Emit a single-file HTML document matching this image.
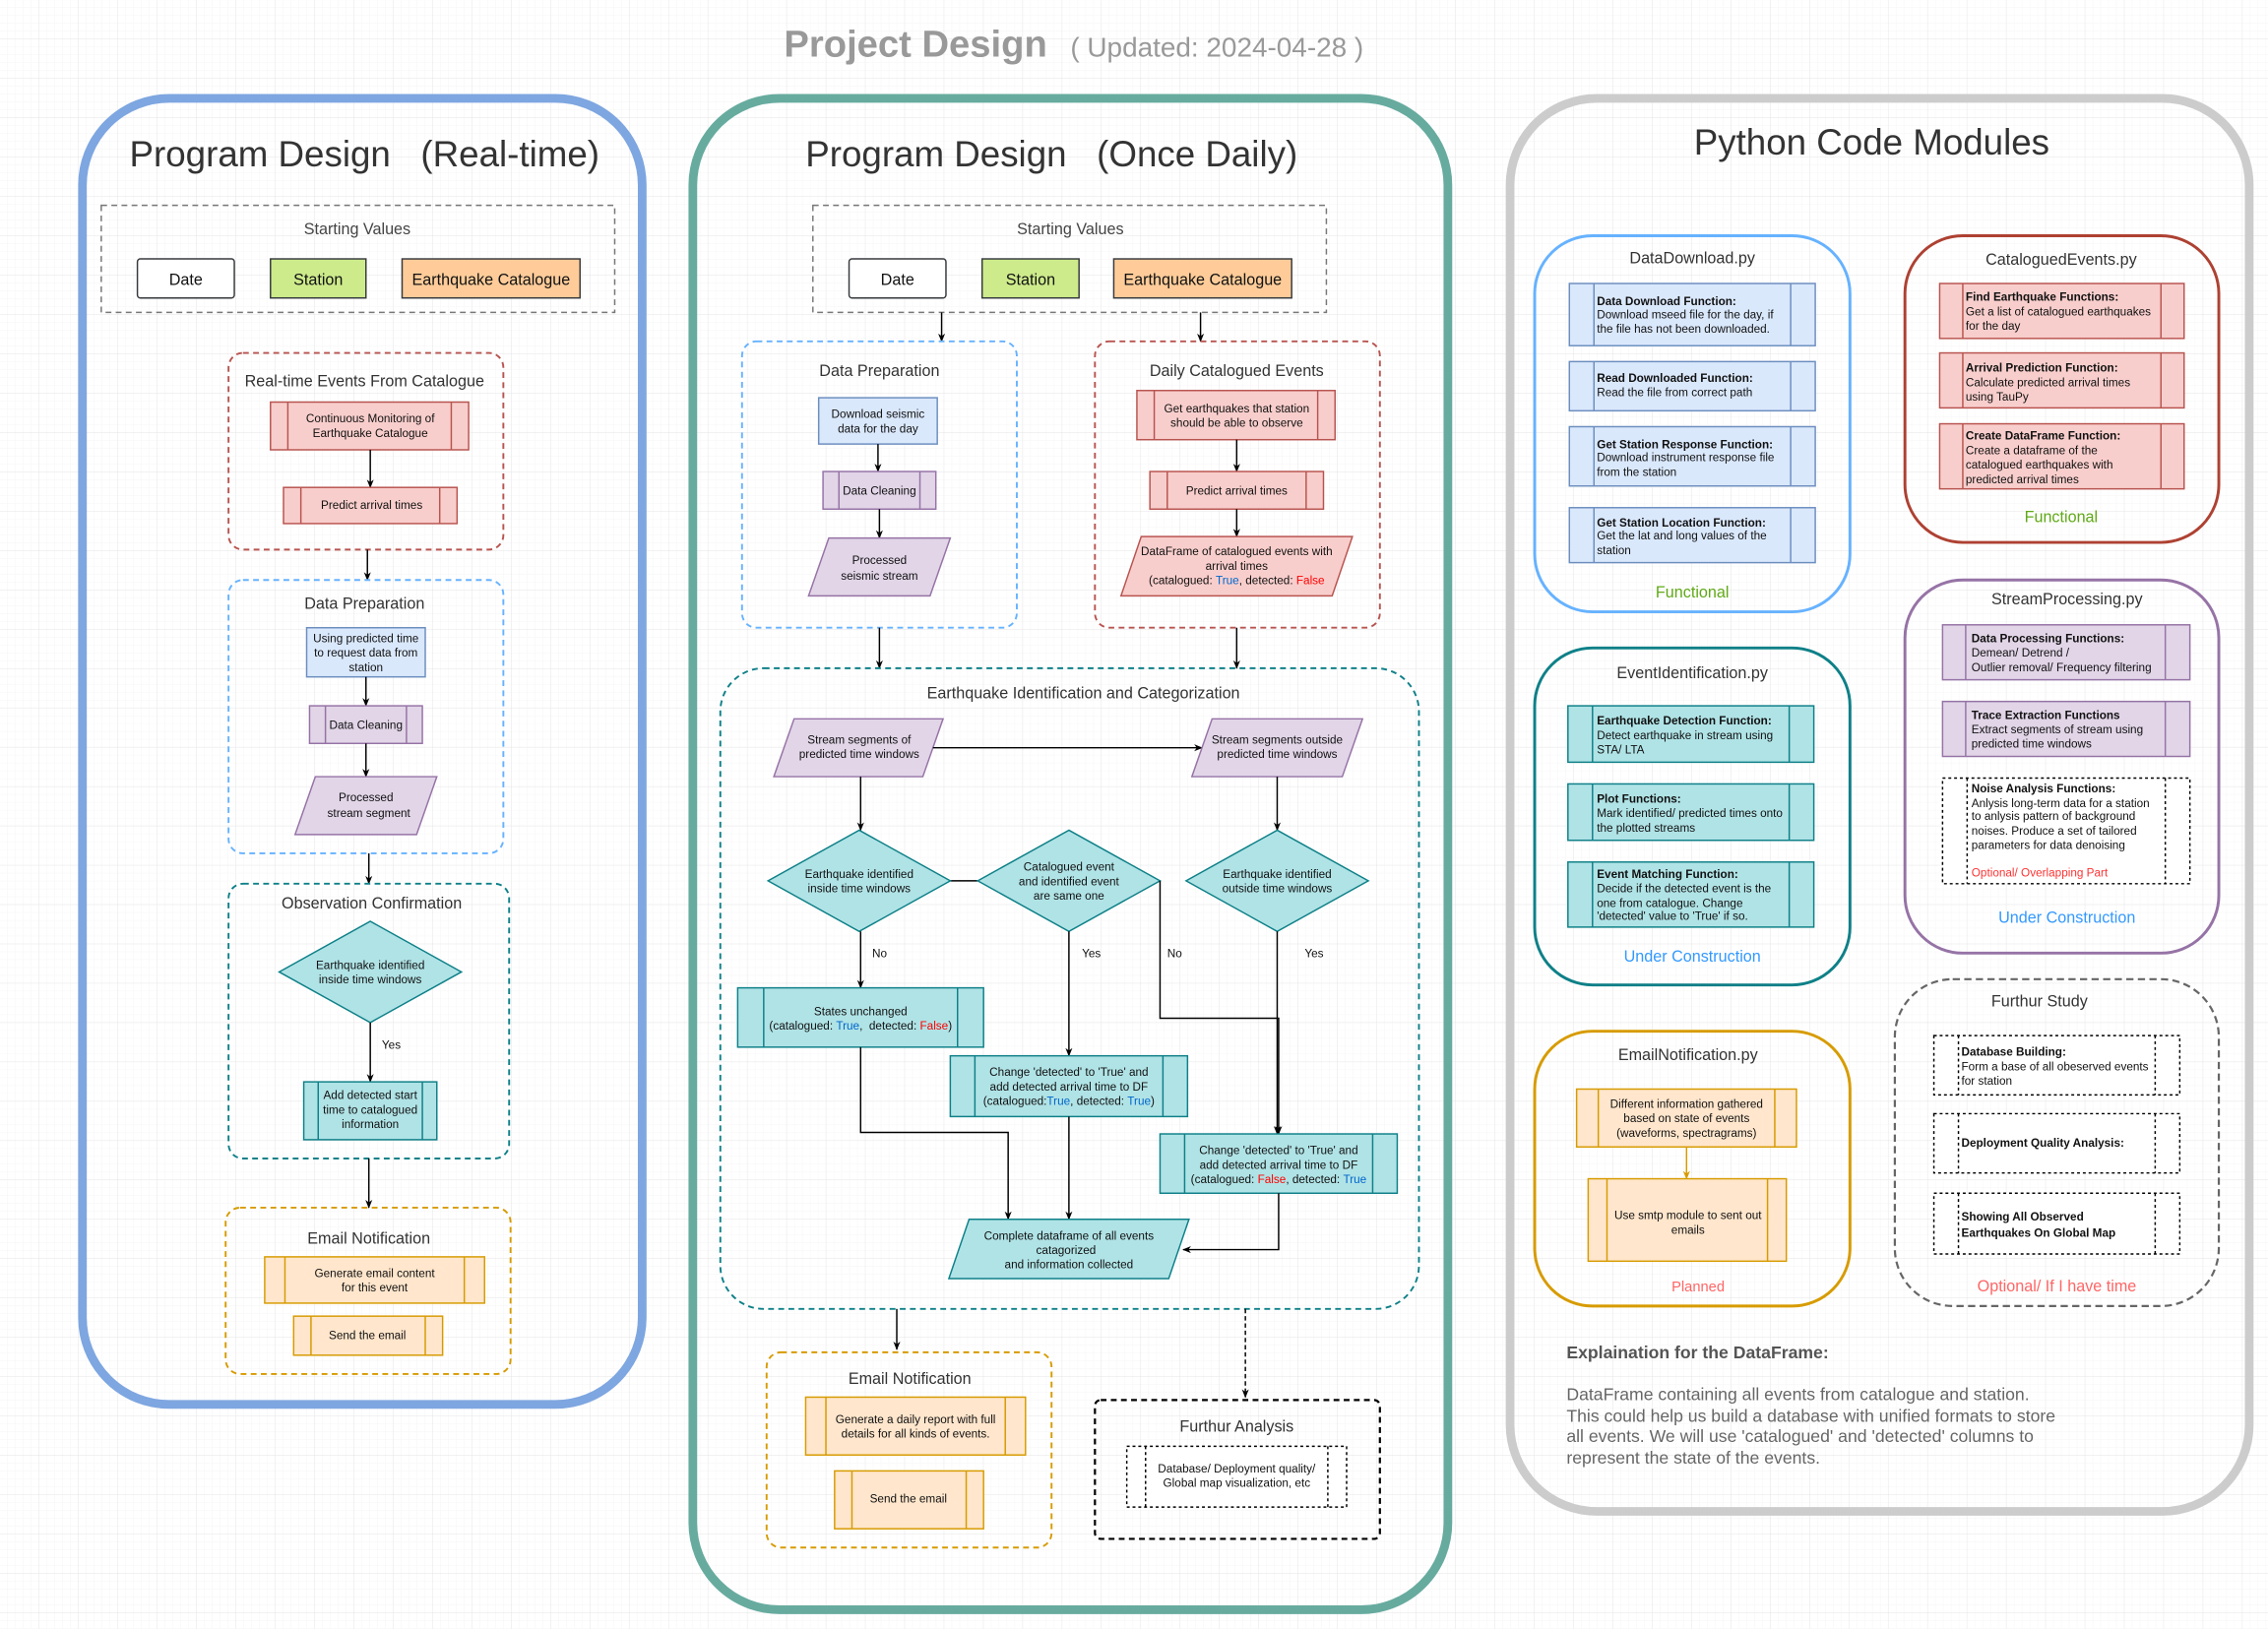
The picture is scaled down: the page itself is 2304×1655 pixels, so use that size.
<!DOCTYPE html>
<html><head><meta charset="utf-8"><style>
html,body{margin:0;padding:0;background:#fff;}
svg{display:block;}
text{font-family:"Liberation Sans",Arial,sans-serif;}
</style></head><body>
<svg width="2304" height="1655" viewBox="0 0 1568 1126.3" xmlns="http://www.w3.org/2000/svg">
<defs>
<pattern id="gmin" width="5.44" height="5.44" patternUnits="userSpaceOnUse"><path d="M5.44 0V5.44H0" fill="none" stroke="#f3f3f3" stroke-width="0.5"/></pattern>
<pattern id="gmaj" width="27.2" height="27.2" patternUnits="userSpaceOnUse"><rect width="27.2" height="27.2" fill="url(#gmin)"/><path d="M27.2 0V27.2H0" fill="none" stroke="#e4e4e4" stroke-width="0.6"/></pattern>
<marker id="ar" viewBox="0 0 10 10" refX="9" refY="5" markerWidth="6" markerHeight="6" orient="auto"><path d="M0 1L10 5L0 9L3 5Z" fill="#000"/></marker>
<marker id="aro" viewBox="0 0 10 10" refX="9" refY="5" markerWidth="6" markerHeight="6" orient="auto"><path d="M0 1L10 5L0 9L3 5Z" fill="#d79b00"/></marker>
</defs>
<rect width="1568" height="1127" fill="url(#gmaj)"/>

<!-- Title -->
<text x="542" y="39" font-size="26" font-weight="bold" fill="#999">Project Design</text>
<text x="740" y="39" font-size="19" fill="#999">( Updated: 2024-04-28 )</text>

<g font-size="8" fill="#111" text-anchor="middle">
<!-- ============ LEFT ============ -->
<rect x="57" y="68" width="387" height="903" rx="60" fill="none" stroke="#7ea6e0" stroke-width="6"/>
<text x="252" y="115" font-size="25" fill="#333" xml:space="preserve">Program Design   (Real-time)</text>
<rect x="70" y="142" width="355" height="74" fill="none" stroke="#777" stroke-dasharray="4 3"/>
<text x="247" y="162" font-size="11" fill="#444">Starting Values</text>
<rect x="95" y="179" width="67" height="27" rx="2" fill="#fff" stroke="#36393d"/><text x="128.5" y="197" font-size="11">Date</text>
<rect x="187" y="179" width="66" height="27" fill="#cdeb8b" stroke="#36393d"/><text x="220" y="197" font-size="11">Station</text>
<rect x="278" y="179" width="123" height="27" fill="#ffcc99" stroke="#36393d"/><text x="339.5" y="197" font-size="11">Earthquake Catalogue</text>

<rect x="158" y="244" width="190" height="136" rx="10" fill="none" stroke="#b85450" stroke-width="1.3" stroke-dasharray="4 3"/>
<text x="252" y="267" font-size="11" fill="#333">Real-time Events From Catalogue</text>
<rect x="187" y="278" width="137" height="33" fill="#f8cecc" stroke="#b85450"/><path d="M199 278V311M312 278V311" stroke="#b85450"/>
<text x="256" y="292">Continuous Monitoring of</text><text x="256" y="302">Earthquake Catalogue</text>
<line x1="256" y1="311" x2="256" y2="337" stroke="#000" marker-end="url(#ar)"/>
<rect x="196" y="337" width="120" height="25" fill="#f8cecc" stroke="#b85450"/><path d="M208 337V362M304 337V362" stroke="#b85450"/>
<text x="257" y="352">Predict arrival times</text>
<line x1="254" y1="380" x2="254" y2="401" stroke="#000" marker-end="url(#ar)"/>

<rect x="158" y="401" width="190" height="189" rx="10" fill="none" stroke="#66b2ff" stroke-width="1.3" stroke-dasharray="4 3"/>
<text x="252" y="421" font-size="11" fill="#333">Data Preparation</text>
<rect x="212" y="434" width="82" height="34" fill="#dae8fc" stroke="#6c8ebf"/>
<text x="253" y="444">Using predicted time</text><text x="253" y="454">to request data from</text><text x="253" y="464">station</text>
<line x1="253" y1="468" x2="253" y2="488" stroke="#000" marker-end="url(#ar)"/>
<rect x="214" y="488" width="78" height="26" fill="#e1d5e7" stroke="#9673a6"/><path d="M225 488V514M281 488V514" stroke="#9673a6"/>
<text x="253" y="504">Data Cleaning</text>
<line x1="253" y1="514" x2="253" y2="537" stroke="#000" marker-end="url(#ar)"/>
<path d="M218 537H302L288 577H204Z" fill="#e1d5e7" stroke="#9673a6"/>
<text x="253" y="554">Processed</text><text x="255" y="565">stream segment</text>
<line x1="255" y1="590" x2="255" y2="611" stroke="#000" marker-end="url(#ar)"/>

<rect x="158" y="611" width="194" height="190" rx="10" fill="none" stroke="#0e8088" stroke-width="1.3" stroke-dasharray="4 3"/>
<text x="257" y="628" font-size="11" fill="#333">Observation Confirmation</text>
<path d="M256 637L319 672L256 707L193 672Z" fill="#b0e3e6" stroke="#0e8088"/>
<text x="256" y="670">Earthquake identified</text><text x="256" y="680">inside time windows</text>
<line x1="256" y1="707" x2="256" y2="748" stroke="#000" marker-end="url(#ar)"/>
<text x="264" y="725" text-anchor="start">Yes</text>
<rect x="210" y="748" width="92" height="40" fill="#b0e3e6" stroke="#0e8088"/><path d="M220 748V788M292 748V788" stroke="#0e8088"/>
<text x="256" y="760">Add detected start</text><text x="256" y="770">time to catalogued</text><text x="256" y="780">information</text>
<line x1="255" y1="801" x2="255" y2="835" stroke="#000" marker-end="url(#ar)"/>

<rect x="156" y="835" width="197" height="115" rx="10" fill="none" stroke="#d79b00" stroke-width="1.3" stroke-dasharray="4 3"/>
<text x="255" y="860" font-size="11" fill="#333">Email Notification</text>
<rect x="183" y="869" width="152" height="32" fill="#ffe6cc" stroke="#d79b00"/><path d="M197 869V901M321 869V901" stroke="#d79b00"/>
<text x="259" y="883">Generate email content</text><text x="259" y="893">for this event</text>
<rect x="203" y="910" width="103" height="27" fill="#ffe6cc" stroke="#d79b00"/><path d="M215 910V937M294 910V937" stroke="#d79b00"/>
<text x="254" y="926">Send the email</text>

<!-- ============ MIDDLE ============ -->
<rect x="479" y="68" width="522" height="1045" rx="60" fill="none" stroke="#67ab9f" stroke-width="6"/>
<text x="727" y="115" font-size="25" fill="#333" xml:space="preserve">Program Design   (Once Daily)</text>
<rect x="562" y="142" width="355" height="74" fill="none" stroke="#777" stroke-dasharray="4 3"/>
<text x="740" y="162" font-size="11" fill="#444">Starting Values</text>
<rect x="587" y="179" width="67" height="27" rx="2" fill="#fff" stroke="#36393d"/><text x="620.5" y="197" font-size="11">Date</text>
<rect x="679" y="179" width="67" height="27" fill="#cdeb8b" stroke="#36393d"/><text x="712.5" y="197" font-size="11">Station</text>
<rect x="770" y="179" width="123" height="27" fill="#ffcc99" stroke="#36393d"/><text x="831.5" y="197" font-size="11">Earthquake Catalogue</text>
<line x1="651" y1="216" x2="651" y2="236" stroke="#000" marker-end="url(#ar)"/>
<line x1="830" y1="216" x2="830" y2="236" stroke="#000" marker-end="url(#ar)"/>

<rect x="513" y="236" width="190" height="198" rx="10" fill="none" stroke="#66b2ff" stroke-width="1.3" stroke-dasharray="4 3"/>
<text x="608" y="260" font-size="11" fill="#333">Data Preparation</text>
<rect x="566" y="275" width="82" height="32" fill="#dae8fc" stroke="#6c8ebf"/>
<text x="607" y="289">Download seismic</text><text x="607" y="299">data for the day</text>
<line x1="607" y1="307" x2="607" y2="326" stroke="#000" marker-end="url(#ar)"/>
<rect x="569" y="326" width="78" height="26" fill="#e1d5e7" stroke="#9673a6"/><path d="M580 326V352M636 326V352" stroke="#9673a6"/>
<text x="608" y="342">Data Cleaning</text>
<line x1="608" y1="352" x2="608" y2="372" stroke="#000" marker-end="url(#ar)"/>
<path d="M573 372H657L643 412H559Z" fill="#e1d5e7" stroke="#9673a6"/>
<text x="608" y="390">Processed</text><text x="608" y="401">seismic stream</text>

<rect x="757" y="236" width="197" height="198" rx="10" fill="none" stroke="#b85450" stroke-width="1.3" stroke-dasharray="4 3"/>
<text x="855" y="260" font-size="11" fill="#333">Daily Catalogued Events</text>
<rect x="786" y="270" width="137" height="34" fill="#f8cecc" stroke="#b85450"/><path d="M798 270V304M911 270V304" stroke="#b85450"/>
<text x="855" y="285">Get earthquakes that station</text><text x="855" y="295">should be able to observe</text>
<line x1="855" y1="304" x2="855" y2="326" stroke="#000" marker-end="url(#ar)"/>
<rect x="795" y="326" width="120" height="26" fill="#f8cecc" stroke="#b85450"/><path d="M807 326V352M903 326V352" stroke="#b85450"/>
<text x="855" y="342">Predict arrival times</text>
<line x1="855" y1="352" x2="855" y2="371" stroke="#000" marker-end="url(#ar)"/>
<path d="M789 371H935L921 412H775Z" fill="#f8cecc" stroke="#b85450"/>
<text x="855" y="384">DataFrame of catalogued events with</text><text x="855" y="394">arrival times</text>
<text x="855" y="404">(catalogued: <tspan fill="#0066cc">True</tspan>, detected: <tspan fill="#ff0000">False</tspan></text>
<line x1="608" y1="434" x2="608" y2="462" stroke="#000" marker-end="url(#ar)"/>
<line x1="855" y1="434" x2="855" y2="462" stroke="#000" marker-end="url(#ar)"/>

<rect x="498" y="462" width="483" height="443" rx="30" fill="none" stroke="#0e8088" stroke-width="1.3" stroke-dasharray="4 3"/>
<text x="749" y="483" font-size="11" fill="#333">Earthquake Identification and Categorization</text>
<path d="M549 497H652L638 537H535Z" fill="#e1d5e7" stroke="#9673a6"/>
<text x="594" y="514">Stream segments of</text><text x="594" y="524">predicted time windows</text>
<line x1="645" y1="517" x2="831" y2="517" stroke="#000" marker-end="url(#ar)"/>
<path d="M838 497H942L928 537H824Z" fill="#e1d5e7" stroke="#9673a6"/>
<text x="883" y="514">Stream segments outside</text><text x="883" y="524">predicted time windows</text>
<line x1="595" y1="537" x2="595" y2="574" stroke="#000" marker-end="url(#ar)"/>
<line x1="883" y1="537" x2="883" y2="574" stroke="#000" marker-end="url(#ar)"/>
<line x1="657" y1="609" x2="676" y2="609" stroke="#000"/>
<path d="M594 574L657 609L594 644L531 609Z" fill="#b0e3e6" stroke="#0e8088"/>
<text x="594" y="607">Earthquake identified</text><text x="594" y="617">inside time windows</text>
<path d="M739 574L802 609L739 644L676 609Z" fill="#b0e3e6" stroke="#0e8088"/>
<text x="739" y="602">Catalogued event</text><text x="739" y="612">and identified event</text><text x="739" y="622">are same one</text>
<path d="M883 574L946 609L883 644L820 609Z" fill="#b0e3e6" stroke="#0e8088"/>
<text x="883" y="607">Earthquake identified</text><text x="883" y="617">outside time windows</text>

<line x1="595" y1="644" x2="595" y2="683" stroke="#000" marker-end="url(#ar)"/>
<text x="603" y="662" text-anchor="start">No</text>
<line x1="739" y1="644" x2="739" y2="730" stroke="#000" marker-end="url(#ar)"/>
<text x="748" y="662" text-anchor="start">Yes</text>
<polyline points="802,609 802,704 884,704 884,784" fill="none" stroke="#000" marker-end="url(#ar)"/>
<text x="807" y="662" text-anchor="start">No</text>
<line x1="883" y1="644" x2="883" y2="784" stroke="#000" marker-end="url(#ar)"/>
<text x="902" y="662" text-anchor="start">Yes</text>

<rect x="510" y="683" width="170" height="41" fill="#b0e3e6" stroke="#0e8088"/><path d="M528 683V724M662 683V724" stroke="#0e8088"/>
<text x="595" y="702">States unchanged</text>
<text x="595" y="712" xml:space="preserve">(catalogued: <tspan fill="#0066cc">True</tspan>,  detected: <tspan fill="#ff0000">False</tspan>)</text>
<rect x="657" y="730" width="164" height="42" fill="#b0e3e6" stroke="#0e8088"/><path d="M674 730V772M804 730V772" stroke="#0e8088"/>
<text x="739" y="744">Change 'detected' to 'True' and</text><text x="739" y="754">add detected arrival time to DF</text>
<text x="739" y="764">(catalogued:<tspan fill="#0066cc">True</tspan>, detected: <tspan fill="#0066cc">True</tspan>)</text>
<rect x="802" y="784" width="164" height="41" fill="#b0e3e6" stroke="#0e8088"/><path d="M819 784V825M949 784V825" stroke="#0e8088"/>
<text x="884" y="798">Change 'detected' to 'True' and</text><text x="884" y="808">add detected arrival time to DF</text>
<text x="884" y="818">(catalogued: <tspan fill="#ff0000">False</tspan>, detected: <tspan fill="#0066cc">True</tspan></text>

<polyline points="595,724 595,783 697,783 697,843" fill="none" stroke="#000" marker-end="url(#ar)"/>
<line x1="739" y1="772" x2="739" y2="843" stroke="#000" marker-end="url(#ar)"/>
<polyline points="884,825 884,864 818,864" fill="none" stroke="#000" marker-end="url(#ar)"/>
<path d="M670 843H822L808 884H656Z" fill="#b0e3e6" stroke="#0e8088"/>
<text x="739" y="857">Complete dataframe of all events</text><text x="737" y="867">catagorized</text><text x="739" y="877">and information collected</text>

<line x1="620" y1="905" x2="620" y2="933" stroke="#000" marker-end="url(#ar)"/>
<rect x="530" y="935" width="197" height="135" rx="10" fill="none" stroke="#d79b00" stroke-width="1.3" stroke-dasharray="4 3"/>
<text x="629" y="957" font-size="11" fill="#333">Email Notification</text>
<rect x="557" y="966" width="152" height="40" fill="#ffe6cc" stroke="#d79b00"/><path d="M571 966V1006M695 966V1006" stroke="#d79b00"/>
<text x="633" y="984">Generate a daily report with full</text><text x="633" y="994">details for all kinds of events.</text>
<rect x="577" y="1017" width="103" height="40" fill="#ffe6cc" stroke="#d79b00"/><path d="M589 1017V1057M668 1017V1057" stroke="#d79b00"/>
<text x="628" y="1039">Send the email</text>
<line x1="861" y1="905" x2="861" y2="966" stroke="#000" stroke-dasharray="3 2" marker-end="url(#ar)"/>
<rect x="757" y="968" width="197" height="96" rx="4" fill="none" stroke="#000" stroke-width="1.5" stroke-dasharray="4 3"/>
<text x="855" y="990" font-size="11" fill="#333">Furthur Analysis</text>
<rect x="779" y="1000" width="152" height="42" fill="#fff" stroke="#000" stroke-dasharray="2 2"/><path d="M792 1000V1042M918 1000V1042" stroke="#000" stroke-dasharray="2 2"/>
<text x="855" y="1018">Database/ Deployment quality/</text><text x="855" y="1028">Global map visualization, etc</text>

<!-- ============ RIGHT ============ -->
<rect x="1044" y="68" width="511" height="977" rx="60" fill="none" stroke="#cccccc" stroke-width="6"/>
<text x="1294" y="107" font-size="25" fill="#333">Python Code Modules</text>
</g>

<g font-size="8" fill="#111">
<!-- DataDownload -->
<rect x="1061" y="163" width="218" height="260" rx="40" fill="none" stroke="#66b2ff" stroke-width="2"/>
<text x="1170" y="182" font-size="11" fill="#333" text-anchor="middle">DataDownload.py</text>
<rect x="1085" y="196" width="170" height="43" fill="#dae8fc" stroke="#6c8ebf"/><path d="M1102 196V239M1238 196V239" stroke="#6c8ebf"/>
<text x="1104" y="211" font-weight="bold">Data Download Function:</text><text x="1104" y="220">Download mseed file for the day, if</text><text x="1104" y="230">the file has not been downloaded.</text>
<rect x="1085" y="250" width="170" height="34" fill="#dae8fc" stroke="#6c8ebf"/><path d="M1102 250V284M1238 250V284" stroke="#6c8ebf"/>
<text x="1104" y="264" font-weight="bold">Read Downloaded Function:</text><text x="1104" y="274">Read the file from correct path</text>
<rect x="1085" y="295" width="170" height="41" fill="#dae8fc" stroke="#6c8ebf"/><path d="M1102 295V336M1238 295V336" stroke="#6c8ebf"/>
<text x="1104" y="310" font-weight="bold">Get Station Response Function:</text><text x="1104" y="319">Download instrument response file</text><text x="1104" y="329">from the station</text>
<rect x="1085" y="351" width="170" height="38" fill="#dae8fc" stroke="#6c8ebf"/><path d="M1102 351V389M1238 351V389" stroke="#6c8ebf"/>
<text x="1104" y="364" font-weight="bold">Get Station Location Function:</text><text x="1104" y="373">Get the lat and long values of the</text><text x="1104" y="383">station</text>
<text x="1170" y="413" font-size="11" fill="#60a917" text-anchor="middle">Functional</text>

<!-- CataloguedEvents -->
<rect x="1317" y="163" width="217" height="212" rx="40" fill="none" stroke="#ae4132" stroke-width="2"/>
<text x="1425" y="183" font-size="11" fill="#333" text-anchor="middle">CataloguedEvents.py</text>
<rect x="1341" y="196" width="169" height="38" fill="#f8cecc" stroke="#b85450"/><path d="M1357 196V234M1494 196V234" stroke="#b85450"/>
<text x="1359" y="208" font-weight="bold">Find Earthquake Functions:</text><text x="1359" y="218">Get a list of catalogued earthquakes</text><text x="1359" y="228">for the day</text>
<rect x="1341" y="244" width="169" height="38" fill="#f8cecc" stroke="#b85450"/><path d="M1357 244V282M1494 244V282" stroke="#b85450"/>
<text x="1359" y="257" font-weight="bold">Arrival Prediction Function:</text><text x="1359" y="267">Calculate predicted arrival times</text><text x="1359" y="277">using TauPy</text>
<rect x="1341" y="293" width="169" height="45" fill="#f8cecc" stroke="#b85450"/><path d="M1357 293V338M1494 293V338" stroke="#b85450"/>
<text x="1359" y="304" font-weight="bold">Create DataFrame Function:</text><text x="1359" y="314">Create a dataframe of the</text><text x="1359" y="324">catalogued earthquakes with</text><text x="1359" y="334">predicted arrival times</text>
<text x="1425" y="361" font-size="11" fill="#60a917" text-anchor="middle">Functional</text>

<!-- StreamProcessing -->
<rect x="1317" y="401" width="217" height="258" rx="40" fill="none" stroke="#9673a6" stroke-width="2"/>
<text x="1429" y="418" font-size="11" fill="#333" text-anchor="middle">StreamProcessing.py</text>
<rect x="1343" y="432" width="171" height="38" fill="#e1d5e7" stroke="#9673a6"/><path d="M1359 432V470M1497 432V470" stroke="#9673a6"/>
<text x="1363" y="444" font-weight="bold">Data Processing Functions:</text><text x="1363" y="454">Demean/ Detrend /</text><text x="1363" y="464">Outlier removal/ Frequency filtering</text>
<rect x="1343" y="485" width="171" height="38" fill="#e1d5e7" stroke="#9673a6"/><path d="M1359 485V523M1497 485V523" stroke="#9673a6"/>
<text x="1363" y="497" font-weight="bold">Trace Extraction Functions</text><text x="1363" y="507">Extract segments of stream using</text><text x="1363" y="517">predicted time windows</text>
<rect x="1343" y="538" width="171" height="73" fill="#fff" stroke="#000" stroke-dasharray="2 2"/><path d="M1360 538V611M1497 538V611" stroke="#000" stroke-dasharray="2 2"/>
<text x="1363" y="548" font-weight="bold">Noise Analysis Functions:</text><text x="1363" y="558">Anlysis long-term data for a station</text><text x="1363" y="567">to anlysis pattern of background</text><text x="1363" y="577">noises. Produce a set of tailored</text><text x="1363" y="587">parameters for data denoising</text>
<text x="1363" y="606" fill="#ff3333">Optional/ Overlapping Part</text>
<text x="1429" y="638" font-size="11" fill="#3399ff" text-anchor="middle">Under Construction</text>

<!-- EventIdentification -->
<rect x="1061" y="448" width="218" height="233" rx="40" fill="none" stroke="#0e8088" stroke-width="2"/>
<text x="1170" y="469" font-size="11" fill="#333" text-anchor="middle">EventIdentification.py</text>
<rect x="1084" y="488" width="170" height="39" fill="#b0e3e6" stroke="#0e8088"/><path d="M1101 488V527M1237 488V527" stroke="#0e8088"/>
<text x="1104" y="501" font-weight="bold">Earthquake Detection Function:</text><text x="1104" y="511">Detect earthquake in stream using</text><text x="1104" y="521">STA/ LTA</text>
<rect x="1084" y="542" width="170" height="39" fill="#b0e3e6" stroke="#0e8088"/><path d="M1101 542V581M1237 542V581" stroke="#0e8088"/>
<text x="1104" y="555" font-weight="bold">Plot Functions:</text><text x="1104" y="565">Mark identified/ predicted times onto</text><text x="1104" y="575">the plotted streams</text>
<rect x="1084" y="596" width="170" height="45" fill="#b0e3e6" stroke="#0e8088"/><path d="M1101 596V641M1237 596V641" stroke="#0e8088"/>
<text x="1104" y="607" font-weight="bold">Event Matching Function:</text><text x="1104" y="617">Decide if the detected event is the</text><text x="1104" y="627">one from catalogue. Change</text><text x="1104" y="636">'detected' value to 'True' if so.</text>
<text x="1170" y="665" font-size="11" fill="#3399ff" text-anchor="middle">Under Construction</text>

<!-- EmailNotification -->
<rect x="1061" y="713" width="218" height="190" rx="40" fill="none" stroke="#d79b00" stroke-width="2"/>
<text x="1167" y="733" font-size="11" fill="#333" text-anchor="middle">EmailNotification.py</text>
<rect x="1090" y="753" width="152" height="40" fill="#ffe6cc" stroke="#d79b00"/><path d="M1105 753V793M1227 753V793" stroke="#d79b00"/>
<text x="1166" y="766" text-anchor="middle">Different information gathered</text><text x="1166" y="776" text-anchor="middle">based on state of events</text><text x="1166" y="786" text-anchor="middle">(waveforms, spectragrams)</text>
<line x1="1166" y1="793" x2="1166" y2="815" stroke="#d79b00" marker-end="url(#aro)"/>
<rect x="1098" y="815" width="137" height="57" fill="#ffe6cc" stroke="#d79b00"/><path d="M1111 815V872M1222 815V872" stroke="#d79b00"/>
<text x="1167" y="843" text-anchor="middle">Use smtp module to sent out</text><text x="1167" y="853" text-anchor="middle">emails</text>
<text x="1174" y="893" font-size="10" fill="#ff6666" text-anchor="middle">Planned</text>

<!-- Furthur Study -->
<rect x="1310" y="677" width="224" height="226" rx="40" fill="none" stroke="#666" stroke-width="1.5" stroke-dasharray="5 3"/>
<text x="1410" y="696" font-size="11" fill="#333" text-anchor="middle">Furthur Study</text>
<rect x="1337" y="716" width="170" height="41" fill="#fff" stroke="#000" stroke-dasharray="2 2"/><path d="M1354 716V757M1490 716V757" stroke="#000" stroke-dasharray="2 2"/>
<text x="1356" y="730" font-weight="bold">Database Building:</text><text x="1356" y="740">Form a base of all obeserved events</text><text x="1356" y="750">for station</text>
<rect x="1337" y="770" width="170" height="41" fill="#fff" stroke="#000" stroke-dasharray="2 2"/><path d="M1354 770V811M1490 770V811" stroke="#000" stroke-dasharray="2 2"/>
<text x="1356" y="793" font-weight="bold">Deployment Quality Analysis:</text>
<rect x="1337" y="825" width="170" height="42" fill="#fff" stroke="#000" stroke-dasharray="2 2"/><path d="M1354 825V867M1490 825V867" stroke="#000" stroke-dasharray="2 2"/>
<text x="1356" y="844" font-weight="bold">Showing All Observed</text><text x="1356" y="855" font-weight="bold">Earthquakes On Global Map</text>
<text x="1422" y="893" font-size="11" fill="#ff6666" text-anchor="middle">Optional/ If I have time</text>

<!-- Explanation -->
<text x="1083" y="939" font-size="12" font-weight="bold" fill="#555">Explaination for the DataFrame:</text>
<g font-size="12" fill="#666">
<text x="1083" y="968">DataFrame containing all events from catalogue and station.</text>
<text x="1083" y="983">This could help us build a database with unified formats to store</text>
<text x="1083" y="997">all events. We will use 'catalogued' and 'detected' columns to</text>
<text x="1083" y="1012">represent the state of the events.</text>
</g>
</g>
</svg>
</body></html>
